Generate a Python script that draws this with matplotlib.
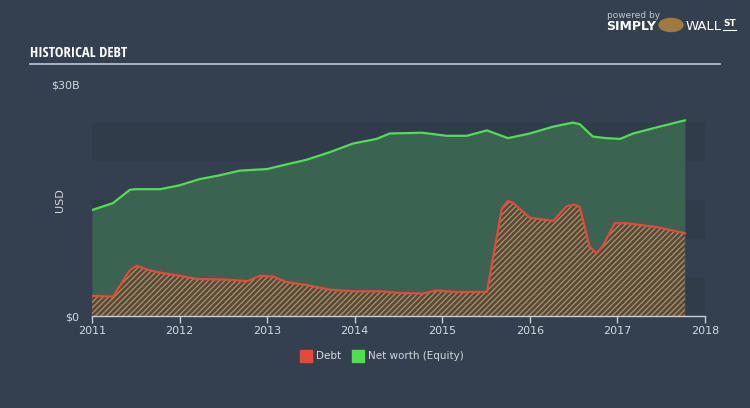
import matplotlib
matplotlib.use("Agg")
import matplotlib.pyplot as plt
from matplotlib.patches import Rectangle

# values (decimal years, $B)
equity_x = [2011.0, 2011.24, 2011.43, 2011.49, 2011.78, 2012.0, 2012.23, 2012.46, 2012.69,
            2013.0, 2013.22, 2013.45, 2013.72, 2013.98, 2014.25, 2014.4, 2014.77, 2015.05,
            2015.28, 2015.51, 2015.75, 2016.0, 2016.27, 2016.49, 2016.57, 2016.72, 2016.87,
            2017.03, 2017.18, 2017.45, 2017.77]
equity = [13.7, 14.6, 16.3, 16.4, 16.4, 16.9, 17.7, 18.2, 18.8,
          19.0, 19.6, 20.2, 21.2, 22.3, 22.9, 23.6, 23.7, 23.3,
          23.3, 24.0, 23.0, 23.6, 24.5, 25.0, 24.8, 23.2, 23.0,
          22.9, 23.6, 24.4, 25.3]

debt_x = [2011.0, 2011.24, 2011.43, 2011.51, 2011.66, 2011.78, 2012.0, 2012.19, 2012.54,
          2012.77, 2012.92, 2013.07, 2013.22, 2013.45, 2013.72, 2013.98, 2014.29, 2014.48,
          2014.78, 2014.93, 2015.16, 2015.51, 2015.68, 2015.75, 2015.81, 2016.0, 2016.27,
          2016.42, 2016.51, 2016.57, 2016.68, 2016.76, 2016.83, 2016.97, 2017.10, 2017.45,
          2017.77]
debt = [2.6, 2.5, 5.9, 6.5, 5.9, 5.6, 5.2, 4.8, 4.7,
        4.5, 5.2, 5.1, 4.4, 4.0, 3.4, 3.2, 3.2, 3.0,
        2.9, 3.3, 3.1, 3.1, 13.9, 14.9, 14.6, 12.7, 12.3,
        14.2, 14.4, 14.1, 9.0, 8.1, 9.0, 12.0, 12.0, 11.5,
        10.7]

years = [2011, 2012, 2013, 2014, 2015, 2016, 2017, 2018]
y_labels = ["$0", "$30B"]

BG = "#344050"
BAND = "#313c4b"
TXT = "#d3d8de"
GREEN = "#4fe04f"
RED = "#e8473b"
NARROW = ["Open Sans Condensed", "Liberation Sans Narrow", "Roboto Condensed", "Roboto", "DejaVu Sans"]

fig = plt.figure(figsize=(7.5, 4.08), dpi=100, facecolor=BG)
ax = fig.add_axes([92 / 750, 92 / 408, 613 / 750, 232 / 408])
ax.set_facecolor(BG)

# horizontal bands
for lo in (0, 10, 20):
    ax.axhspan(lo, lo + 5, color=BAND, lw=0, zorder=0)

ax.fill_between(equity_x, 0, equity, color="#3a6451", lw=0, zorder=1)
ax.plot(equity_x, equity, color=GREEN, lw=1.6, zorder=3)

ax.fill_between(debt_x, 0, debt, facecolor="#544a3b", edgecolor="#a88c5c",
                hatch="//////", lw=0, zorder=2)
ax.plot(debt_x, debt, color=RED, lw=1.6, zorder=3)

ax.set_xlim(2011, 2018)
ax.set_ylim(0, 30)
for s in ("top", "right", "left"):
    ax.spines[s].set_visible(False)
ax.spines["bottom"].set_color("#c8ced6")
ax.spines["bottom"].set_linewidth(1)
ax.set_xticks(years)
ax.set_xticklabels([str(y) for y in years])
ax.tick_params(axis="x", colors="#c8ced6", length=5, width=1, labelsize=8, labelcolor=TXT, pad=2)
ax.set_yticks([0, 30])
ax.set_yticklabels(y_labels)
ax.tick_params(axis="y", length=0, labelsize=8, labelcolor=TXT, pad=9)
ax.set_ylabel("USD", color=TXT, fontsize=8)
ax.yaxis.set_label_coords(-27 / 613, 0.5)

# title and rule
fig.text(30 / 750, 1 - 53 / 408, "HISTORICAL DEBT", color="white", fontsize=10.5,
         fontweight="bold", family=NARROW, va="center")
fig.add_artist(plt.Line2D([30 / 750, 720 / 750], [1 - 64 / 408] * 2, color="#b9cadb", lw=1.2))

# logo text
fig.text(607 / 750, 1 - 15 / 408, "powered by", color="#c0c6cc", fontsize=6.5, va="center")
fig.text(606 / 750, 1 - 27 / 408, "SIMPLY", color="white", fontsize=9, fontweight="bold", va="center")
fig.text(686 / 750, 1 - 27 / 408, "WALL", color="white", fontsize=9.5, va="center")
fig.text(723 / 750, 1 - 24 / 408, "ST", color="white", fontsize=6.5, fontweight="bold", va="center")
fig.add_artist(plt.Line2D([723 / 750, 736 / 750], [1 - 30 / 408] * 2, color="white", lw=0.8))
fig.add_artist(plt.Circle((671 / 750, 1 - 25 / 408), 0.016, transform=fig.transFigure,
                          color="#a07a3c"))

# legend
leg_y = 1 - 356 / 408
fig.add_artist(Rectangle((300 / 750, leg_y - 0.014), 12 / 750, 0.028, color=RED, transform=fig.transFigure))
fig.text(316 / 750, leg_y, "Debt", color=TXT, fontsize=7.5, va="center")
fig.add_artist(Rectangle((352 / 750, leg_y - 0.014), 12 / 750, 0.028, color=GREEN, transform=fig.transFigure))
fig.text(368 / 750, leg_y, "Net worth (Equity)", color=TXT, fontsize=7.5, va="center")

fig.savefig("out.png", dpi=100, facecolor=BG)
